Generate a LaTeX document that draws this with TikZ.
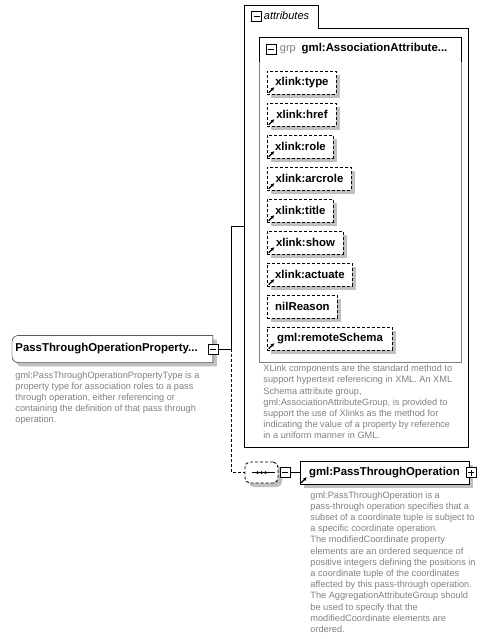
\documentclass[tikz,border=0pt]{standalone}
\usepackage{fontspec}
\setmainfont{Liberation Sans}
\usetikzlibrary{positioning,shadows,arrows.meta,backgrounds}
\definecolor{descgray}{RGB}{128,128,128}
\definecolor{shadowgray}{RGB}{192,192,192}

\begin{document}
\begin{tikzpicture}[x=1pt,y=-1pt,line width=0.9pt,
  every node/.style={inner sep=0pt},
  boxshadow/.style={general shadow={fill=shadowgray,shadow xshift=4pt,shadow yshift=-4pt}},
  namefont/.style={font=\fontsize{11.4}{13}\selectfont\bfseries},
  lbl/.style={font=\fontsize{11}{13}\selectfont,text height=8pt,text depth=2.5pt},
  attr/.style={draw,fill=white,dash pattern=on 3pt off 2pt,boxshadow,anchor=west,minimum height=23pt,namefont},
  ref/.style={path picture={\draw[solid,-{Stealth[length=3.6pt,width=3.6pt]},line width=1.2pt]
      ([shift={(1.2pt,1.2pt)}]path picture bounding box.south west) -- ++(5.5pt,5.5pt);}},
  collapse/.style={draw,solid,fill=white,minimum size=10pt,path picture={\draw
      ([xshift=2pt]path picture bounding box.west) -- ([xshift=-2pt]path picture bounding box.east);}},
  expand/.style={draw,solid,fill=white,minimum size=10pt,path picture={\draw
      ([xshift=2pt]path picture bounding box.west) -- ([xshift=-2pt]path picture bounding box.east)
      ([yshift=2pt]path picture bounding box.south) -- ([yshift=-2pt]path picture bounding box.north);}},
  desc/.style={anchor=north west,align=left,text=descgray,font=\fontsize{9.2}{11.2}\selectfont}
]
  \useasboundingbox (0,0) rectangle (487,639);

  % root element
  \node[anchor=west,text width=194pt,align=left,inner xsep=3pt,minimum height=26pt,namefont] (root) at (12,349) {PassThroughOperationProperty...};
  \begin{scope}[on background layer]
    \draw[fill=white,boxshadow] (root.north east) -- ([xshift=6pt]root.north west)
      arc[start angle=90,end angle=180,radius=6pt] -- ([yshift=6pt]root.south west)
      arc[start angle=180,end angle=270,radius=6pt] -- (root.south east) -- cycle;
  \end{scope}
  \node[collapse] (rootm) at ([xshift=0.5pt]root.east) {};
  \node[desc] (rootdesc) at (15,371) {gml:PassThroughOperationPropertyType is a\\
    property type for association roles to a pass\\
    through operation, either referencing or\\
    containing the definition of that pass through\\
    operation.};

  % attributes
  \draw (244,447) -- (244,5) -- (318,5) -- (318,28) -- (468,28) -- (468,447) -- cycle;
  \node[collapse] (attrm) at (256.5,16.5) {};
  \node[lbl,font=\fontsize{11}{13}\selectfont\itshape,right=1.5pt of attrm] (attrlbl) {attributes};

  \draw[descgray] (259,37) rectangle (461,362);
  \draw (259,62) -- (259,37) -- (461,37) -- (461,62);
  \node[collapse] (grpm) at (271,49) {};
  \node[lbl,text=descgray,right=3pt of grpm] (grplbl) {grp};
  \node[lbl,namefont,right=5pt of grplbl] (grpname) {gml:AssociationAttribute...};

  \node[attr,ref,minimum width=69pt] (type) at (267,82.5) {xlink:type};
  \node[attr,ref,minimum width=69pt] (href) at (267,114.5) {xlink:href};
  \node[attr,ref,minimum width=66pt] (role) at (267,146.5) {xlink:role};
  \node[attr,ref,minimum width=84pt] (arcrole) at (267,178.5) {xlink:arcrole};
  \node[attr,ref,minimum width=66pt] (title) at (267,210.5) {xlink:title};
  \node[attr,ref,minimum width=76pt] (show) at (267,242.5) {xlink:show};
  \node[attr,ref,minimum width=85pt] (actuate) at (267,274.5) {xlink:actuate};
  \node[attr,minimum width=70pt] (nilreason) at (267,306.5) {nilReason};
  \node[attr,ref,minimum width=125pt] (remote) at (267,338.5) {gml:remoteSchema};

  \node[desc] (attrdesc) at (263,364.5) {XLink components are the standard method to\\
    support hypertext referencing in XML. An XML\\
    Schema attribute group,\\
    gml:AssociationAttributeGroup, is provided to\\
    support the use of Xlinks as the method for\\
    indicating the value of a property by reference\\
    in a uniform manner in GML.};

  % sequence and child element
  \node[draw,fill=white,dash pattern=on 3pt off 2pt,rounded corners=5pt,boxshadow,minimum width=33pt,minimum height=21pt] (seq) at (261.5,472.5) {};
  \draw ([xshift=-10pt]seq.center) -- ([xshift=13pt]seq.center);
  \fill ([xshift=-4pt]seq.center) circle[radius=1.5pt] (seq.center) circle[radius=1.5pt] ([xshift=4pt]seq.center) circle[radius=1.5pt];
  \node[collapse,right=1.5pt of seq] (seqm) {};

  \node[draw,fill=white,boxshadow,ref,minimum width=169pt,minimum height=23pt,namefont] (op) at (384.5,472.5) {gml:PassThroughOperation};
  \node[expand] (opp) at ([xshift=2pt]op.east) {};
  \node[desc] (opdesc) at (310,491) {gml:PassThroughOperation is a\\
    pass-through operation specifies that a\\
    subset of a coordinate tuple is subject to\\
    a specific coordinate operation.\\
    The modifiedCoordinate property\\
    elements are an ordered sequence of\\
    positive integers defining the positions in\\
    a coordinate tuple of the coordinates\\
    affected by this pass-through operation.\\
    The AggregationAttributeGroup should\\
    be used to specify that the\\
    modifiedCoordinate elements are\\
    ordered.};

  % connectors
  \coordinate (fork) at (231,349);
  \coordinate (attrin) at (244,226);
  \draw (rootm) -- (fork) |- (attrin);
  \draw[dash pattern=on 3pt off 2pt] (fork) |- (seq);
  \draw (seqm) -- (op);
\end{tikzpicture}
\end{document}
